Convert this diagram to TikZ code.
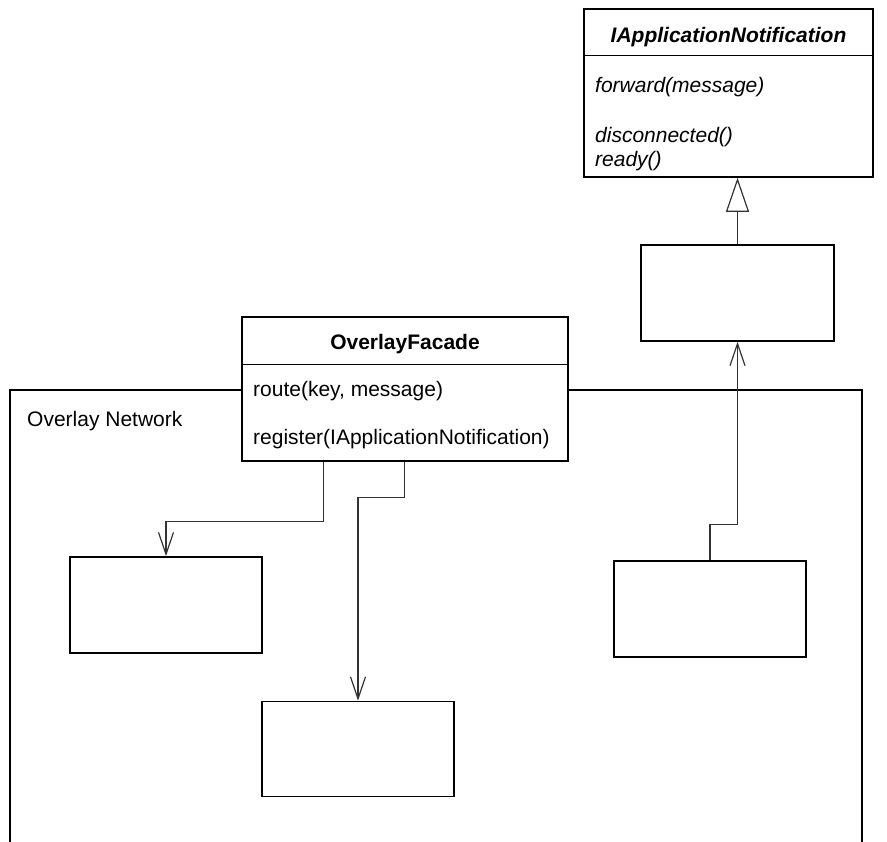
\documentclass[tikz,border=0pt]{standalone}
\usepackage{fontspec}
\setmainfont{Liberation Sans}
\usetikzlibrary{arrows.meta}
\begin{document}
\begin{tikzpicture}[x=1pt,y=-1pt,
  box/.style={draw,line width=1.6pt,fill=white,inner sep=0pt},
  sep/.style={line width=1.2pt},
  frameline/.style={line width=1.6pt},
  txt/.style={anchor=base west,inner sep=0pt,font=\fontsize{21}{25}\selectfont},
  itxt/.style={txt,font=\itshape\fontsize{21}{25}\selectfont},
  ttl/.style={anchor=base,inner sep=0pt,font=\bfseries\fontsize{21}{25}\selectfont},
  ittl/.style={anchor=base,inner sep=0pt,font=\bfseries\itshape\fontsize{21}{25}\selectfont},
  assoc/.style={draw=black!80,line width=1.2pt,-{Straight Barb[length=22pt,width=15pt,line width=1.2pt]}},
  inherit/.style={draw=black!80,line width=1.2pt,-{Triangle[open,length=34pt,width=23pt,fill=white,line width=1.2pt]}}]
\useasboundingbox (0,0) rectangle (887,842);
% Overlay Network frame
\begin{scope}
\clip (0,0) rectangle (887,842);
\draw[frameline] (10,860) -- (10,390) -- (862,390) -- (862,860);
\end{scope}
\node[txt] (netlbl) at (27,427) {Overlay Network};

% IApplicationNotification
\node[box,minimum width=289pt,minimum height=168pt] (iface) at (728.5,93) {};
\draw[sep] ([yshift=-47pt]iface.north west) -- ([yshift=-47pt]iface.north east);
\node[ittl] (ifaceT) at (728.5,43) {IApplicationNotification};
\node[itxt] (ifm1) at (595,92.5) {forward(message)};
\node[itxt] (ifm2) at (595,142.5) {disconnected()};
\node[itxt] (ifm3) at (595,167) {ready()};

% implementing box
\node[box,minimum width=193pt,minimum height=96pt] (impl) at (737.5,293) {};

% OverlayFacade
\node[box,minimum width=326pt,minimum height=144pt] (facade) at (405,389) {};
\draw[sep] ([yshift=-48pt]facade.north west) -- ([yshift=-48pt]facade.north east);
\node[ttl] (facT) at (405,350) {OverlayFacade};
\node[txt] (fm1) at (253,397) {route(key, message)};
\node[txt] (fm2) at (253,444.5) {register(IApplicationNotification)};

% inner boxes
\node[box,minimum width=192pt,minimum height=96pt] (boxA) at (166,605) {};
\node[box,minimum width=192pt,minimum height=95pt] (boxB) at (358,749) {};
\node[box,minimum width=192pt,minimum height=96pt] (boxC) at (710,609) {};

% connectors
\draw[inherit] (impl.north) -- (impl.north |- iface.south);
\draw[assoc] ([xshift=82pt]facade.south west) -- ++(0,60) -| (boxA.north);
\draw[assoc] ([xshift=163pt]facade.south west) -- ++(0,36) -| (boxB.north);
\draw[assoc] (boxC.north) -- ++(0,-36) -| (impl.south);
\end{tikzpicture}
\end{document}
